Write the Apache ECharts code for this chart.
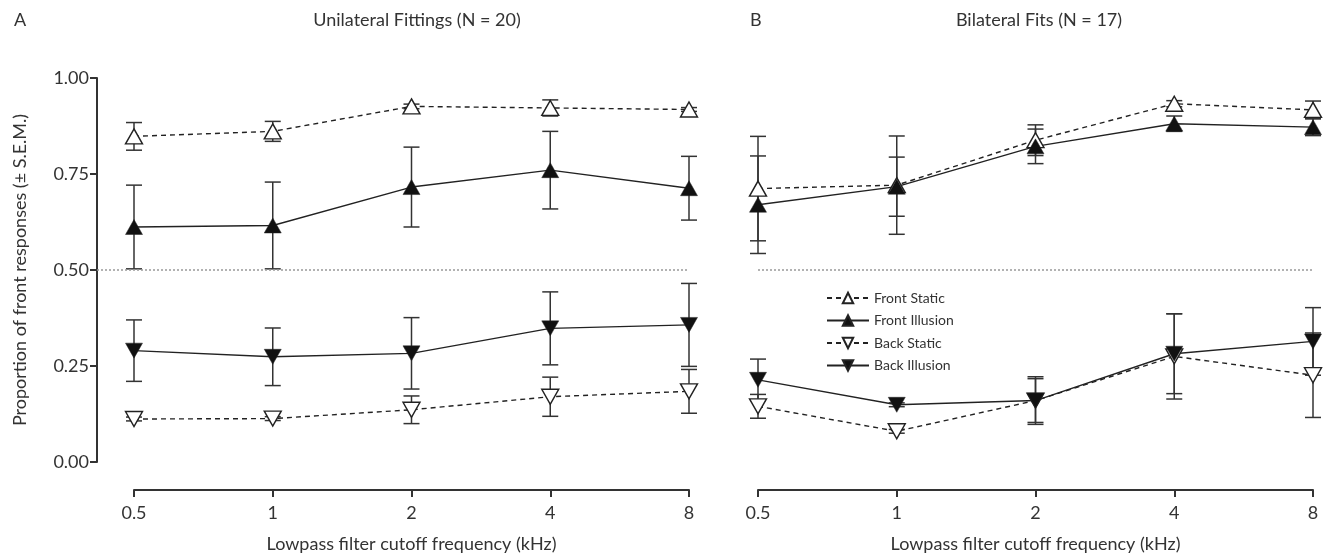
<!DOCTYPE html>
<html>
<head>
<meta charset="utf-8">
<script src="https://cdn.jsdelivr.net/npm/echarts@6/dist/echarts.min.js"></script>
<style>
html, body { margin: 0; padding: 0; background: #fff; }
#chart { width: 1334px; height: 558px; }
</style>
</head>
<body>
<div id="chart"></div>
<script>
// lowpass cutoff frequencies (kHz), equally spaced on the x axis
const freqLabels = ['0.5', '1', '2', '4', '8'];

// A: unilateral fittings (N = 20), means and S.E.M.
const uniFrontStatic = [0.848, 0.861, 0.926, 0.922, 0.918];
const uniFrontStaticSem = [0.036, 0.026, 0.006, 0.021, 0.005];
const uniFrontIllusion = [0.612, 0.616, 0.716, 0.760, 0.713];
const uniFrontIllusionSem = [0.109, 0.113, 0.104, 0.101, 0.083];
const uniBackStatic = [0.112, 0.113, 0.136, 0.170, 0.184];
const uniBackStaticSem = [0.005, 0.005, 0.036, 0.051, 0.057];
const uniBackIllusion = [0.290, 0.274, 0.283, 0.348, 0.357];
const uniBackIllusionSem = [0.080, 0.075, 0.093, 0.095, 0.108];

// B: bilateral fits (N = 17)
const biFrontStatic = [0.712, 0.721, 0.838, 0.933, 0.917];
const biFrontStaticSem = [0.136, 0.128, 0.040, 0.008, 0.023];
const biFrontIllusion = [0.670, 0.717, 0.822, 0.881, 0.872];
const biFrontIllusionSem = [0.127, 0.077, 0.045, 0.020, 0.022];
const biBackStatic = [0.145, 0.080, 0.160, 0.275, 0.226];
const biBackStaticSem = [0.031, 0.005, 0.057, 0.111, 0.110];
const biBackIllusion = [0.214, 0.149, 0.160, 0.282, 0.314];
const biBackIllusionSem = [0.054, 0.005, 0.062, 0.104, 0.088];

const chanceLevel = 0.5;

const FONT = 'Lato';
const INK = '#222';
const TXT = '#333';
const UP = 'path://M5,0L10,9L0,9Z';
const DOWN = 'path://M0,0L10,0L5,9Z';

const kinds = [
    { name: 'Front Static', symbol: UP, open: true },
    { name: 'Front Illusion', symbol: UP, open: false },
    { name: 'Back Static', symbol: DOWN, open: true },
    { name: 'Back Illusion', symbol: DOWN, open: false }
];

function pairs(vals, sems) {
    return vals.map((v, i) => sems ? [i, v, sems[i]] : [i, v]);
}

function renderErr(params, api) {
    const x = api.value(0), m = api.value(1), s = api.value(2);
    const top = api.coord([x, m + s]);
    const bot = api.coord([x, m - s]);
    const w = 8;
    const style = { stroke: '#333', lineWidth: 1.5, fill: null };
    return {
        type: 'group',
        children: [
            { type: 'line', shape: { x1: top[0], y1: top[1], x2: bot[0], y2: bot[1] }, style },
            { type: 'line', shape: { x1: top[0] - w, y1: top[1], x2: top[0] + w, y2: top[1] }, style },
            { type: 'line', shape: { x1: bot[0] - w, y1: bot[1], x2: bot[0] + w, y2: bot[1] }, style }
        ]
    };
}

function panelSeries(axisIdx, means, sems) {
    const out = [];
    kinds.forEach((k, i) => {
        out.push({
            name: k.name + ' SEM',
            type: 'custom',
            xAxisIndex: axisIdx,
            yAxisIndex: axisIdx,
            renderItem: renderErr,
            encode: { x: 0, y: 1 },
            data: pairs(means[i], sems[i]),
            silent: true,
            z: 2
        });
    });
    kinds.forEach((k, i) => {
        out.push({
            name: k.name,
            type: 'line',
            xAxisIndex: axisIdx,
            yAxisIndex: axisIdx,
            data: pairs(means[i]),
            symbol: k.symbol,
            symbolSize: [17, 15],
            showAllSymbol: true,
            lineStyle: { color: INK, width: 1.4, type: k.open ? [5, 4] : 'solid' },
            itemStyle: {
                color: k.open ? '#fff' : '#111',
                borderColor: INK,
                borderWidth: k.open ? 1.4 : 0.5
            },
            silent: true,
            animation: false,
            z: 3
        });
    });
    // dotted chance line
    out.push({
        type: 'line',
        xAxisIndex: axisIdx,
        yAxisIndex: axisIdx,
        data: [],
        silent: true,
        markLine: {
            symbol: 'none',
            silent: true,
            label: { show: false },
            lineStyle: { color: '#999', type: [2, 2], width: 1.5 },
            data: [{ yAxis: chanceLevel }]
        },
        z: 1
    });
    return out;
}

const chart = echarts.init(document.getElementById('chart'));

const yBase = { type: 'value', min: 0, max: 1, interval: 0.25, splitLine: { show: false } };
const xHiddenBase = { type: 'value', max: 4, show: false };
const xVisible = {
    type: 'category',
    data: freqLabels,
    boundaryGap: false,
    offset: 28,
    axisLine: { onZero: false, lineStyle: { color: TXT, width: 2 } },
    axisTick: { alignWithLabel: true, length: 7, lineStyle: { color: TXT, width: 2 } },
    axisLabel: { color: TXT, fontFamily: FONT, fontSize: 18, margin: 14 },
    name: 'Lowpass filter cutoff frequency (kHz)',
    nameLocation: 'middle',
    nameGap: 45,
    nameTextStyle: { color: TXT, fontFamily: FONT, fontSize: 18 }
};

const option = {
    backgroundColor: '#fff',
    animation: false,
    textStyle: { fontFamily: FONT },
    title: [
        { text: 'A', left: 9, top: 6, textStyle: { color: TXT, fontFamily: FONT, fontSize: 18, fontWeight: 'normal' } },
        { text: 'Unilateral Fittings (N = 20)', left: 412, top: 6, textAlign: 'center', textStyle: { color: TXT, fontFamily: FONT, fontSize: 18, fontWeight: 'normal' } },
        { text: 'B', left: 745, top: 6, textStyle: { color: TXT, fontFamily: FONT, fontSize: 18, fontWeight: 'normal' } },
        { text: 'Bilateral Fits (N = 17)', left: 1034, top: 6, textAlign: 'center', textStyle: { color: TXT, fontFamily: FONT, fontSize: 18, fontWeight: 'normal' } }
    ],
    legend: {
        orient: 'vertical',
        left: 821,
        top: 286,
        itemWidth: 42,
        itemHeight: 13,
        itemGap: 8.5,
        selectedMode: false,
        textStyle: { color: TXT, fontFamily: FONT, fontSize: 14 },
        data: kinds.map(k => k.name)
    },
    grid: [
        { left: 97, right: 645, top: 78, bottom: 96 },   // A plot area (from y axis)
        { left: 134, right: 645, top: 78, bottom: 96 },  // A x axis
        { left: 758, right: 21, top: 78, bottom: 96 }    // B
    ],
    xAxis: [
        Object.assign({}, xHiddenBase, { gridIndex: 0, min: -37 / 555 * 4 }),
        Object.assign({}, xVisible, { gridIndex: 1 }),
        Object.assign({}, xVisible, { gridIndex: 2 })
    ],
    yAxis: [
        Object.assign({}, yBase, {
            gridIndex: 0,
            axisLine: { show: true, onZero: false, lineStyle: { color: TXT, width: 2 } },
            axisTick: { show: true, length: 7, lineStyle: { color: TXT, width: 2 } },
            axisLabel: { color: TXT, fontFamily: FONT, fontSize: 18, margin: 8, formatter: v => v.toFixed(2) },
            name: 'Proportion of front responses (± S.E.M.)',
            nameLocation: 'middle',
            nameGap: 68,
            nameTextStyle: { color: TXT, fontFamily: FONT, fontSize: 18 }
        }),
        Object.assign({}, yBase, { gridIndex: 1, show: false }),
        Object.assign({}, yBase, { gridIndex: 2, show: false })
    ],
    series: [].concat(
        panelSeries(0,
            [uniFrontStatic, uniFrontIllusion, uniBackStatic, uniBackIllusion],
            [uniFrontStaticSem, uniFrontIllusionSem, uniBackStaticSem, uniBackIllusionSem]),
        panelSeries(2,
            [biFrontStatic, biFrontIllusion, biBackStatic, biBackIllusion],
            [biFrontStaticSem, biFrontIllusionSem, biBackStaticSem, biBackIllusionSem]),
        [{ type: 'line', xAxisIndex: 1, yAxisIndex: 1, data: [] }]
    )
};

chart.setOption(option);
</script>
</body>
</html>
